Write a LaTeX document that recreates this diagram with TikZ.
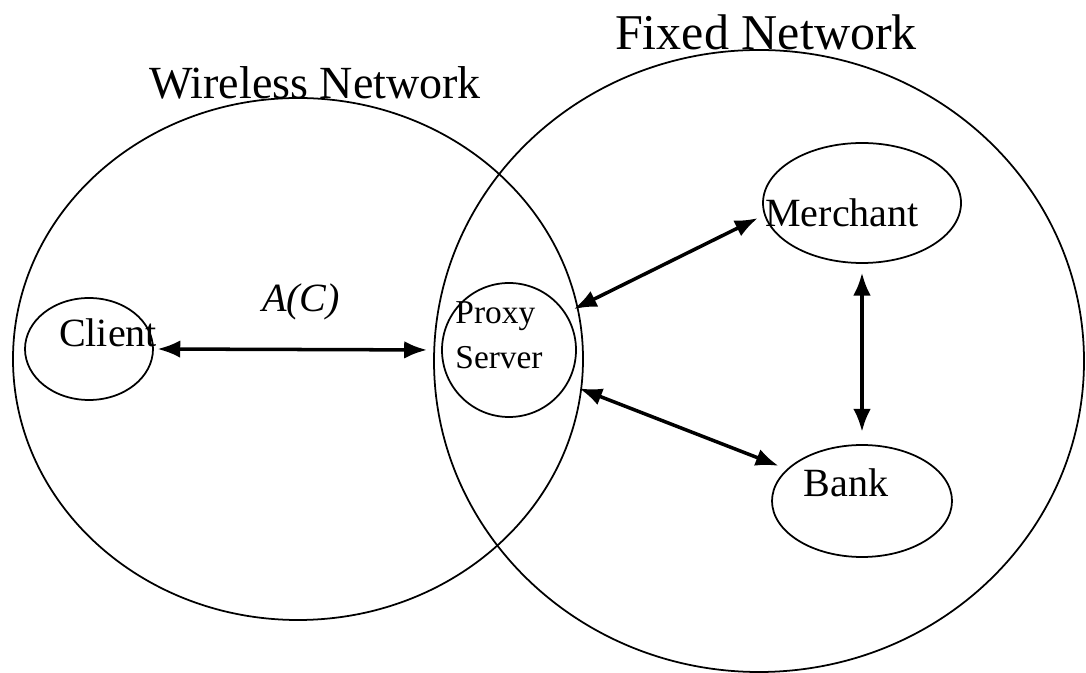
\documentclass[tikz,border=0pt]{standalone}
\usepackage{fontspec}
\setmainfont{Liberation Serif}
\usetikzlibrary{shapes.geometric,arrows.meta}
\tikzset{>={Latex[length=13pt,width=10pt]}}
\tikzset{
  net/.style={ellipse,draw,line width=1pt,inner sep=0pt},
  party/.style={ellipse,draw,line width=1pt,inner sep=0pt},
  link/.style={<->,line width=2pt},
  txt/.style={inner sep=0pt,font=\fontsize{22.8}{27}\selectfont},
}

\begin{document}
\begin{tikzpicture}
  \useasboundingbox (0,0) rectangle (21.72,13.46);
  % the two networks
  \node[net,minimum width=11.40cm,minimum height=10.44cm] (wireless) at (5.96,6.28) {};
  \node[net,minimum width=13.00cm,minimum height=12.44cm] (fixed) at (15.18,6.24) {};
  \node[inner sep=0pt,font=\fontsize{26.2}{30}\selectfont] (wirelesstxt) at (6.30,11.80) {Wireless Network};
  \node[inner sep=0pt,font=\fontsize{28.5}{32}\selectfont] (fixedtxt) at (15.32,12.82) {Fixed Network};
  % parties
  \node[party,minimum width=2.56cm,minimum height=2.04cm] (client) at (1.78,6.48) {};
  \node[party,minimum width=2.68cm,minimum height=2.68cm] (proxy) at (10.18,6.46) {};
  \node[party,minimum width=3.96cm,minimum height=2.40cm] (merchant) at (17.24,9.40) {};
  \node[party,minimum width=3.60cm,minimum height=2.24cm] (bank) at (17.24,3.44) {};
  \node[txt] (clienttxt) at (2.16,6.80) {Client};
  \node[inner sep=0pt,align=left,font=\fontsize{19}{25.6}\selectfont] (proxytxt) at (9.98,6.76) {Proxy\\Server};
  \node[txt] (merchanttxt) at (16.84,9.20) {Merchant};
  \node[txt] (banktxt) at (16.92,3.80) {Bank};
  \node[txt] (actxt) at (6.02,7.42) {\textit{A(C)}};
  % links
  \draw[link,shorten <=2pt,shorten >=8pt] (client.east) -- (proxy.west);
  \draw[link,shorten <=5pt,shorten >=4pt] (proxy.33) -- (merchant.187);
  \draw[link,shorten <=7pt,shorten >=5pt] (proxy.-30) -- (bank.157);
  \draw[link,shorten <=5pt,shorten >=7pt] (merchant.south) -- (bank.north);
\end{tikzpicture}
\end{document}
